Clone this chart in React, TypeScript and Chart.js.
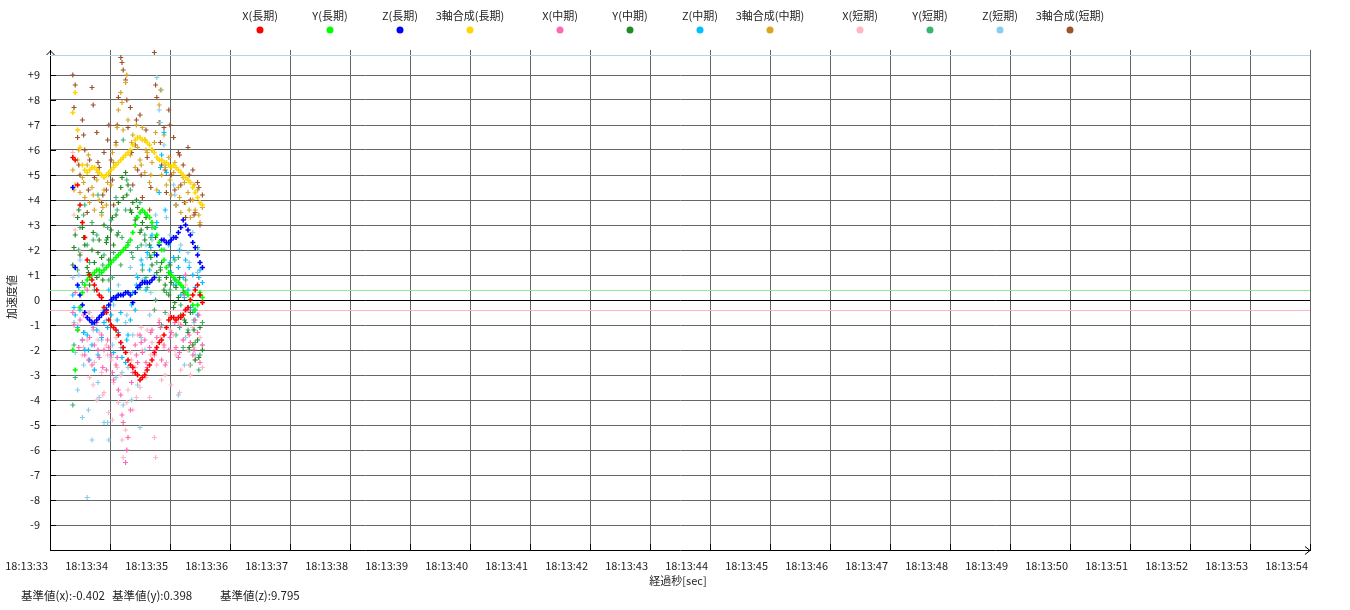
import React, { useEffect, useRef } from 'react';
import { Chart, registerables } from 'chart.js';

Chart.register(...registerables);

// elapsed seconds after 18:13:33 (main sampling)
const TIMES = [
  0.38, 0.42, 0.46, 0.5, 0.54, 0.58, 0.62, 0.66, 0.7, 0.74, 0.78, 0.82, 0.86, 0.9, 0.94, 0.98,
  1.02, 1.06, 1.1, 1.14, 1.18, 1.22, 1.26, 1.3, 1.34, 1.38, 1.42, 1.46, 1.5, 1.54, 1.58, 1.62,
  1.66, 1.7, 1.74, 1.78, 1.82, 1.86, 1.9, 1.94, 1.98, 2.02, 2.06, 2.1, 2.14, 2.18, 2.22, 2.26,
  2.3, 2.34, 2.38, 2.42, 2.46, 2.5, 2.54,
];
// extra sampling instants for the medium / short term series
const TIMES_B = [
  0.4, 0.48, 0.56, 0.64, 0.72, 0.8, 0.88, 0.96, 1.04, 1.12, 1.2, 1.28, 1.36, 1.44,
  1.52, 1.6, 1.68, 1.76, 1.84, 1.92, 2.0, 2.08, 2.16, 2.24, 2.32, 2.4, 2.48,
];

const X_LONG = [
  5.7, 5.6, 4.6, 3.8, 3.1, 2.5, 1.6, 1.0, 0.8, 0.6, 0.4, 0.2, 0.1, -0.3, -0.5, -0.8,
  -1.0, -1.1, -1.2, -1.4, -1.7, -1.9, -2.1, -2.4, -2.6, -2.7, -2.9, -3.0, -3.2, -3.1, -3.0, -2.8,
  -2.6, -2.4, -2.1, -1.9, -1.7, -1.6, -1.4, -1.1, -0.8, -0.7, -0.7, -0.8, -0.7, -0.7, -0.6, -0.4,
  -0.3, 0.0, 0.2, 0.4, 0.6, 0.2, -0.1,
];
const Y_LONG = [
  -2.0, -2.8, -1.2, -0.3, 0.3, 0.6, 0.8, 0.9, 1.0, 1.1, 1.2, 1.2, 1.1, 1.2, 1.3, 1.4,
  1.5, 1.6, 1.7, 1.8, 1.9, 2.0, 2.1, 2.2, 2.4, 2.7, 3.0, 3.3, 3.5, 3.6, 3.5, 3.4,
  3.3, 3.1, 2.9, 2.6, 2.3, 2.0, 1.6, 1.3, 1.1, 1.0, 0.9, 0.8, 0.7, 0.6, 0.5, 0.3,
  0.2, 0.0, -0.2, -0.4, -0.2, 0.3, 0.1,
];
const Z_LONG = [
  4.5, 1.3, 0.6, 0.2, -0.2, -0.5, -0.7, -0.8, -0.9, -0.9, -0.8, -0.7, -0.6, -0.5, -0.4, -0.2,
  0.0, 0.1, 0.1, 0.2, 0.2, 0.2, 0.3, 0.3, 0.2, -0.1, 0.3, 0.5, 0.6, 0.7, 0.7, 0.7,
  0.7, 0.8, 0.9, 1.8, 2.2, 2.4, 2.4, 2.3, 2.3, 2.4, 2.5, 2.5, 2.7, 2.9, 3.2, 3.0,
  2.8, 2.6, 2.3, 2.1, 1.8, 1.5, 1.3,
];
const C_LONG = [
  7.5, 8.3, 6.8, 6.1, 5.4, 5.2, 5.1, 5.2, 5.3, 5.3, 5.2, 5.1, 5.0, 4.9, 5.0, 5.1,
  5.2, 5.3, 5.4, 5.5, 5.6, 5.7, 5.8, 5.9, 6.0, 6.2, 6.4, 6.5, 6.5, 6.4, 6.4, 6.3,
  6.2, 6.0, 5.9, 5.7, 5.6, 5.6, 5.5, 5.5, 5.4, 5.3, 5.4, 5.3, 5.2, 5.1, 5.0, 4.9,
  4.8, 4.7, 4.5, 4.3, 4.1, 3.9, 3.8,
];
const X_MID = [
  -0.5, 0.3, -1.2, -0.8, -1.6, -2.2, 0.4, -1.5, -2.6, -1.8, -0.9, -2.3, -1.4, -2.0, -2.8, -1.9,
  -2.2, -3.2, -2.6, -3.6, -3.8, -4.9, -6.5, -5.5, -4.4, -2.9, -1.8, -2.5, -1.4, -2.1, -1.6, -2.7,
  -1.9, -1.2, -2.2, -1.5, -0.9, -2.4, -1.8, -1.1, -2.0, -1.3, -0.7, -1.9, -2.3, -1.0, -1.6, 1.0,
  -0.4, -1.7, -2.2, -0.8, -1.3, -2.5, -1.8,
];
const X_MID_B = [
  -1.0, -1.9, -0.6, -2.4, -1.1, -2.0, -2.7, -1.6, -2.9, -2.3, -4.6, -6.0, -3.3, -2.2,
  -1.7, -2.5, -1.3, -2.0, -1.1, -2.6, -1.5, -0.9, -2.1, 0.2, -1.4, -2.0, -0.6,
];
const Y_MID = [
  1.4, 2.6, 3.3, 1.8, 2.9, 2.2, 1.3, 0.6, 2.0, 1.5, 0.9, 2.4, 1.7, 3.0, 2.3, 1.6,
  2.8, 2.2, 3.4, 3.9, 4.5, 4.1, 5.1, 4.6, 3.6, 3.9, 3.2, 3.7, 2.7, 3.1, 2.4, 2.9,
  2.2, 1.4, 1.9, 1.1, 0.8, 1.5, 0.4, 0.9, 0.2, 0.7, -0.3, 0.5, 0.1, -0.6, 0.3, -0.9,
  -1.3, -0.5, -1.8, -2.4, -1.6, -1.1, -2.0,
];
const Y_MID_B = [
  2.1, 3.6, 2.5, 1.1, 2.7, 1.9, 0.8, 2.5, 3.3, 2.6, 4.9, 4.2, 3.5, 4.0,
  2.8, 3.3, 1.7, 2.5, 1.2, 0.6, 1.4, -0.1, 0.9, -0.8, -1.9, -1.2, -2.3,
];
const Z_MID = [
  0.2, -0.6, -1.1, -0.4, -1.6, -2.0, -1.4, -2.4, -1.8, -2.8, -1.2, -0.7, -1.5, -0.9, -0.3, 0.4,
  -0.6, -2.1, 0.1, -1.3, -0.5, -1.9, -2.5, -1.4, -0.8, 0.3, -0.4, 0.9, 0.5, 1.4, 0.8, 1.9,
  1.2, 2.6, 1.8, 3.1, 4.3, 5.8, 6.7, 5.1, 2.2, 1.1, 1.7, 0.6, 1.3, 0.2, 0.9, 1.6,
  0.4, -0.3, 1.0, 0.5, -0.6, 1.2, 0.7,
];
const Z_MID_B = [
  -0.3, 0.5, -1.3, -2.0, -1.0, -2.2, -0.5, -1.1, 0.0, -0.8, -2.3, -1.6, -0.2, 0.6,
  1.6, 0.4, 2.1, 2.9, 5.3, 3.6, 1.5, 0.8, 2.0, 0.1, 1.3, -0.4, 0.9,
];
const C_MID = [
  5.2, 4.6, 5.6, 4.3, 4.9, 4.1, 5.4, 3.9, 4.5, 3.6, 4.8, 4.0, 3.4, 4.4, 3.8, 5.0,
  4.6, 5.5, 6.2, 7.6, 8.3, 6.8, 8.7, 7.2, 5.8, 6.6, 5.3, 6.1, 5.6, 6.9, 5.1, 5.9,
  4.7, 5.5, 6.3, 4.4, 7.8, 5.0, 6.6, 4.6, 5.7, 4.2, 5.1, 3.8, 4.5, 3.5, 4.9, 3.9,
  4.3, 3.3, 4.0, 3.6, 4.4, 3.1, 3.7,
];
const C_MID_B = [
  4.4, 6.0, 4.7, 5.8, 4.2, 5.1, 3.7, 4.7, 5.9, 6.9, 7.9, 9.0, 6.3, 7.0,
  5.4, 6.0, 5.0, 6.7, 8.4, 5.3, 4.8, 5.5, 4.1, 4.7, 3.6, 4.6, 3.4,
];
const X_SHORT = [
  5.9, 2.8, -1.0, 1.9, -2.2, 0.5, -1.6, -3.1, -0.7, -2.5, -4.0, -1.3, -2.9, -3.7, -1.8, -4.5,
  -2.4, -3.3, -1.5, -4.1, -3.0, -6.3, -5.2, -3.6, -2.1, -4.4, -2.7, -1.4, -3.5, -2.0, -2.9, -1.2,
  -3.9, -1.7, -5.5, -2.6, -0.8, -3.2, -1.9, -2.5, -0.6, -3.4, -1.4, -2.2, -0.9, -2.8, -1.6, 0.6,
  -2.0, -3.0, -1.1, -2.4, 1.8, -1.5, -2.7,
];
const X_SHORT_B = [
  3.4, -0.3, -1.9, -0.5, -3.4, -1.6, -3.8, -2.2, -4.8, -2.7, -5.6, -4.1, -2.4, -3.9,
  -1.1, -3.1, -2.2, -6.3, -1.5, -3.0, -1.2, -2.0, -3.7, -0.4, -2.6, -1.9, 0.9,
];
const Y_SHORT = [
  -4.2, -3.1, 1.2, 2.9, 0.7, 3.8, 2.2, 1.5, 3.1, 0.4, 2.6, 1.0, 3.5, 1.8, 2.4, 0.8,
  3.2, 1.9, 4.1, 2.7, 1.4, 6.4, 3.6, 2.3, 4.4, 1.7, 3.0, 2.1, 3.9, 1.2, 2.6, 0.5,
  1.8, 2.9, -0.4, 1.5, 0.9, -1.0, 2.0, 0.3, 1.1, -0.7, 0.6, -1.4, 1.7, -0.2, -1.9, 0.8,
  -1.2, -2.6, -0.5, -1.7, 2.1, -2.2, -0.9,
];
const Y_SHORT_B = [
  -1.8, 2.0, 3.4, 1.0, 2.4, 4.2, 1.4, 2.9, 0.9, 3.6, 2.5, 4.8, 1.9, 3.3,
  2.2, 0.9, 2.5, 0.0, 1.3, -0.5, 0.4, 1.6, -1.1, 0.3, -2.0, -0.8, -2.8,
];
const Z_SHORT = [
  0.9, -2.1, -3.6, 1.6, -4.7, -1.3, -7.9, -0.5, -5.6, -2.8, 0.4, -3.9, -1.6, -4.9, -0.8, -5.6,
  -2.3, -0.2, -3.1, 0.6, -1.9, -4.2, -0.9, -2.7, 1.3, -1.4, 0.3, -3.4, -5.1, 0.8, -2.0, 1.7,
  -0.6, 2.4, 1.0, 8.9, 7.6, 8.4, 6.2, 3.3, 1.4, -0.7, 4.6, 3.8, -3.8, 2.2, 0.5, -1.5,
  1.9, -0.4, 2.7, -2.2, 1.1, 0.2, -1.8,
];
const Z_SHORT_B = [
  -0.9, 1.0, -2.6, -4.4, -1.2, -3.3, -0.4, -4.9, -1.8, 0.2, -2.9, -0.6, -4.0, 1.0,
  -1.5, 2.2, 0.3, 3.4, 7.1, 5.4, 2.6, 4.2, 0.7, -2.6, 1.5, -0.9, 2.0,
];
const C_SHORT = [
  9.0, 8.6, 6.5, 5.0, 7.2, 6.0, 3.5, 5.6, 8.5, 4.9, 6.7, 5.3, 3.9, 5.9, 4.4, 7.0,
  5.6, 3.8, 6.3, 8.1, 9.7, 9.2, 8.8, 6.9, 7.7, 4.6, 6.2, 5.2, 7.4, 4.1, 6.4, 5.7,
  3.6, 6.0, 9.9, 8.1, 7.1, 5.4, 6.9, 4.3, 7.6, 5.0, 6.5, 3.8, 5.9, 4.6, 5.4, 3.3,
  6.1, 4.0, 5.2, 3.5, 4.7, 3.0, 4.2,
];
const C_SHORT_B = [
  7.7, 5.4, 6.6, 4.4, 7.8, 5.5, 4.2, 6.4, 4.8, 7.0, 9.5, 8.0, 5.9, 7.2,
  5.0, 6.8, 4.5, 8.6, 6.3, 5.2, 7.0, 4.4, 5.8, 3.9, 5.0, 3.4, 4.5,
];

const SERIES_LABELS = [
  'X(長期)', 'Y(長期)', 'Z(長期)', '3軸合成(長期)',
  'X(中期)', 'Y(中期)', 'Z(中期)', '3軸合成(中期)',
  'X(短期)', 'Y(短期)', 'Z(短期)', '3軸合成(短期)',
];
const SERIES_COLORS = [
  '#ff0000', '#00ff00', '#0000ff', '#ffd700',
  '#ff69b4', '#228b22', '#00bfff', '#daa520',
  '#ffb6c1', '#3cb371', '#87ceeb', '#a0522d',
];

const X_TICK_PREFIX = '18:13:';
const X_TICK_START = 33;
const X_MIN = 0;
const X_MAX = 21;
const Y_MIN = -10;
const Y_MAX = 10;

const REF_X = -0.402;
const REF_Y = 0.398;
const REF_Z = 9.795;

const Y_TITLE = '加速度値';
const X_TITLE = '経過秒[sec]';

const FONT = "'Noto Sans CJK JP', 'Noto Sans', sans-serif";

export default function App() {
  const canvasRef = useRef<HTMLCanvasElement>(null);

  useEffect(() => {
    const canvas = canvasRef.current;
    if (!canvas) return;
    const seriesMain = [
      X_LONG, Y_LONG, Z_LONG, C_LONG,
      X_MID, Y_MID, Z_MID, C_MID,
      X_SHORT, Y_SHORT, Z_SHORT, C_SHORT,
    ];
    const seriesExtra: (number[] | null)[] = [
      null, null, null, null,
      X_MID_B, Y_MID_B, Z_MID_B, C_MID_B,
      X_SHORT_B, Y_SHORT_B, Z_SHORT_B, C_SHORT_B,
    ];
    const datasets = seriesMain.map((arr, i) => {
      const pts = arr.map((v, j) => ({ x: TIMES[j], y: v }));
      const extra = seriesExtra[i];
      if (extra) extra.forEach((v, j) => pts.push({ x: TIMES_B[j], y: v }));
      return {
        label: SERIES_LABELS[i],
        data: pts,
        borderColor: SERIES_COLORS[i],
        backgroundColor: SERIES_COLORS[i],
        pointStyle: 'cross' as const,
        pointRadius: 2.5,
        pointHoverRadius: 2.5,
        pointBorderWidth: i < 4 ? 1.6 : 1.2,
        showLine: false,
      };
    });

    const overlay = {
      id: 'overlay',
      beforeDatasetsDraw(chart: any) {
        const { ctx, chartArea: a, scales } = chart;
        const x = scales.x;
        const y = scales.y;
        ctx.save();
        const refLine = (v: number, c: string) => {
          const py = Math.round(y.getPixelForValue(v)) + 0.5;
          ctx.strokeStyle = c;
          ctx.lineWidth = 1;
          ctx.beginPath();
          ctx.moveTo(a.left, py);
          ctx.lineTo(a.right, py);
          ctx.stroke();
        };
        refLine(REF_Z, '#add8e6');
        refLine(REF_Y, '#90ee90');
        refLine(REF_X, '#ffb6c1');

        // inner tick marks
        ctx.strokeStyle = '#000';
        ctx.lineWidth = 1;
        ctx.beginPath();
        for (let v = Y_MIN + 1; v < Y_MAX; v++) {
          const py = Math.round(y.getPixelForValue(v)) + 0.5;
          ctx.moveTo(a.left, py);
          ctx.lineTo(a.left + 6, py);
        }
        for (let v = X_MIN + 1; v <= X_MAX; v++) {
          const px = Math.round(x.getPixelForValue(v)) + 0.5;
          ctx.moveTo(px, a.bottom);
          ctx.lineTo(px, a.bottom - 6);
        }
        ctx.stroke();
        ctx.restore();
      },
      afterDraw(chart: any) {
        const { ctx, chartArea: a } = chart;
        ctx.save();
        // axis arrows
        ctx.strokeStyle = '#000';
        ctx.lineWidth = 1;
        ctx.beginPath();
        const lx = Math.round(a.left) + 0.5;
        ctx.moveTo(lx - 4, a.top + 5);
        ctx.lineTo(lx, a.top + 1);
        ctx.lineTo(lx + 4, a.top + 5);
        const by = Math.round(a.bottom) + 0.5;
        ctx.moveTo(a.right - 5, by - 4);
        ctx.lineTo(a.right, by);
        ctx.lineTo(a.right - 5, by + 4);
        ctx.stroke();

        // legend
        ctx.font = `11px ${FONT}`;
        ctx.textAlign = 'center';
        ctx.textBaseline = 'middle';
        chart.data.datasets.forEach((ds: any, i: number) => {
          const cx = 260 + i * 70 + Math.floor(i / 4) * 20;
          ctx.fillStyle = '#222';
          ctx.fillText(ds.label, cx, 16);
          ctx.fillStyle = ds.borderColor;
          ctx.beginPath();
          ctx.arc(cx, 30, 3.5, 0, Math.PI * 2);
          ctx.fill();
        });

        // axis titles
        ctx.fillStyle = '#222';
        ctx.fillText(X_TITLE, (a.left + a.right) / 2 - 2, 581);
        ctx.save();
        ctx.translate(12, 297);
        ctx.rotate(-Math.PI / 2);
        ctx.fillText(Y_TITLE, 0, 0);
        ctx.restore();

        // reference values
        ctx.textAlign = 'left';
        ctx.font = `11.5px ${FONT}`;
        ctx.fillText(`基準値(x):${REF_X.toFixed(3)}`, 21, 596);
        ctx.fillText(`基準値(y):${REF_Y.toFixed(3)}`, 112, 596);
        ctx.fillText(`基準値(z):${REF_Z.toFixed(3)}`, 220, 596);
        ctx.restore();
      },
    };

    const chart = new Chart(canvas, {
      type: 'scatter',
      data: { datasets },
      options: {
        animation: false,
        responsive: false,
        devicePixelRatio: 1,
        layout: { padding: { top: 50, right: 40, left: 0, bottom: 0 } },
        plugins: { legend: { display: false }, tooltip: { enabled: false } },
        events: [],
        scales: {
          x: {
            type: 'linear',
            min: X_MIN,
            max: X_MAX,
            afterFit: (s: any) => {
              s.height = 60;
              s.paddingLeft = 0;
              s.paddingRight = 0;
            },
            border: { display: true, color: '#000', width: 1 },
            grid: {
              drawTicks: false,
              color: (c: any) => (c.tick && c.tick.value === X_MIN ? 'rgba(0,0,0,0)' : '#666'),
            },
            ticks: {
              stepSize: 1,
              autoSkip: false,
              maxRotation: 0,
              align: 'end',
              labelOffset: -2,
              padding: 9,
              color: '#222',
              font: { family: FONT, size: 11 },
              callback: (v: any) => X_TICK_PREFIX + String(X_TICK_START + Number(v)),
            },
          },
          y: {
            type: 'linear',
            min: Y_MIN,
            max: Y_MAX,
            afterFit: (s: any) => {
              s.width = 50;
              s.paddingTop = 0;
              s.paddingBottom = 0;
            },
            border: { display: true, color: '#000', width: 1 },
            grid: {
              drawTicks: false,
              color: (c: any) => {
                const v = c.tick ? c.tick.value : 1;
                if (v === 0) return '#000';
                if (v === Y_MIN || v === Y_MAX) return 'rgba(0,0,0,0)';
                return '#666';
              },
            },
            ticks: {
              stepSize: 1,
              autoSkip: false,
              padding: 10,
              color: '#222',
              font: { family: FONT, size: 11 },
              callback: (v: any) => {
                const n = Number(v);
                if (n === Y_MIN || n === Y_MAX) return '';
                return n > 0 ? '+' + n : String(n);
              },
            },
          },
        },
      },
      plugins: [overlay],
    });
    return () => chart.destroy();
  }, []);

  return (
    <div style={{ position: 'fixed', left: 0, top: 0, width: 1350, height: 610, background: '#fff' }}>
      <canvas ref={canvasRef} width={1350} height={610} style={{ display: 'block' }} />
    </div>
  );
}
